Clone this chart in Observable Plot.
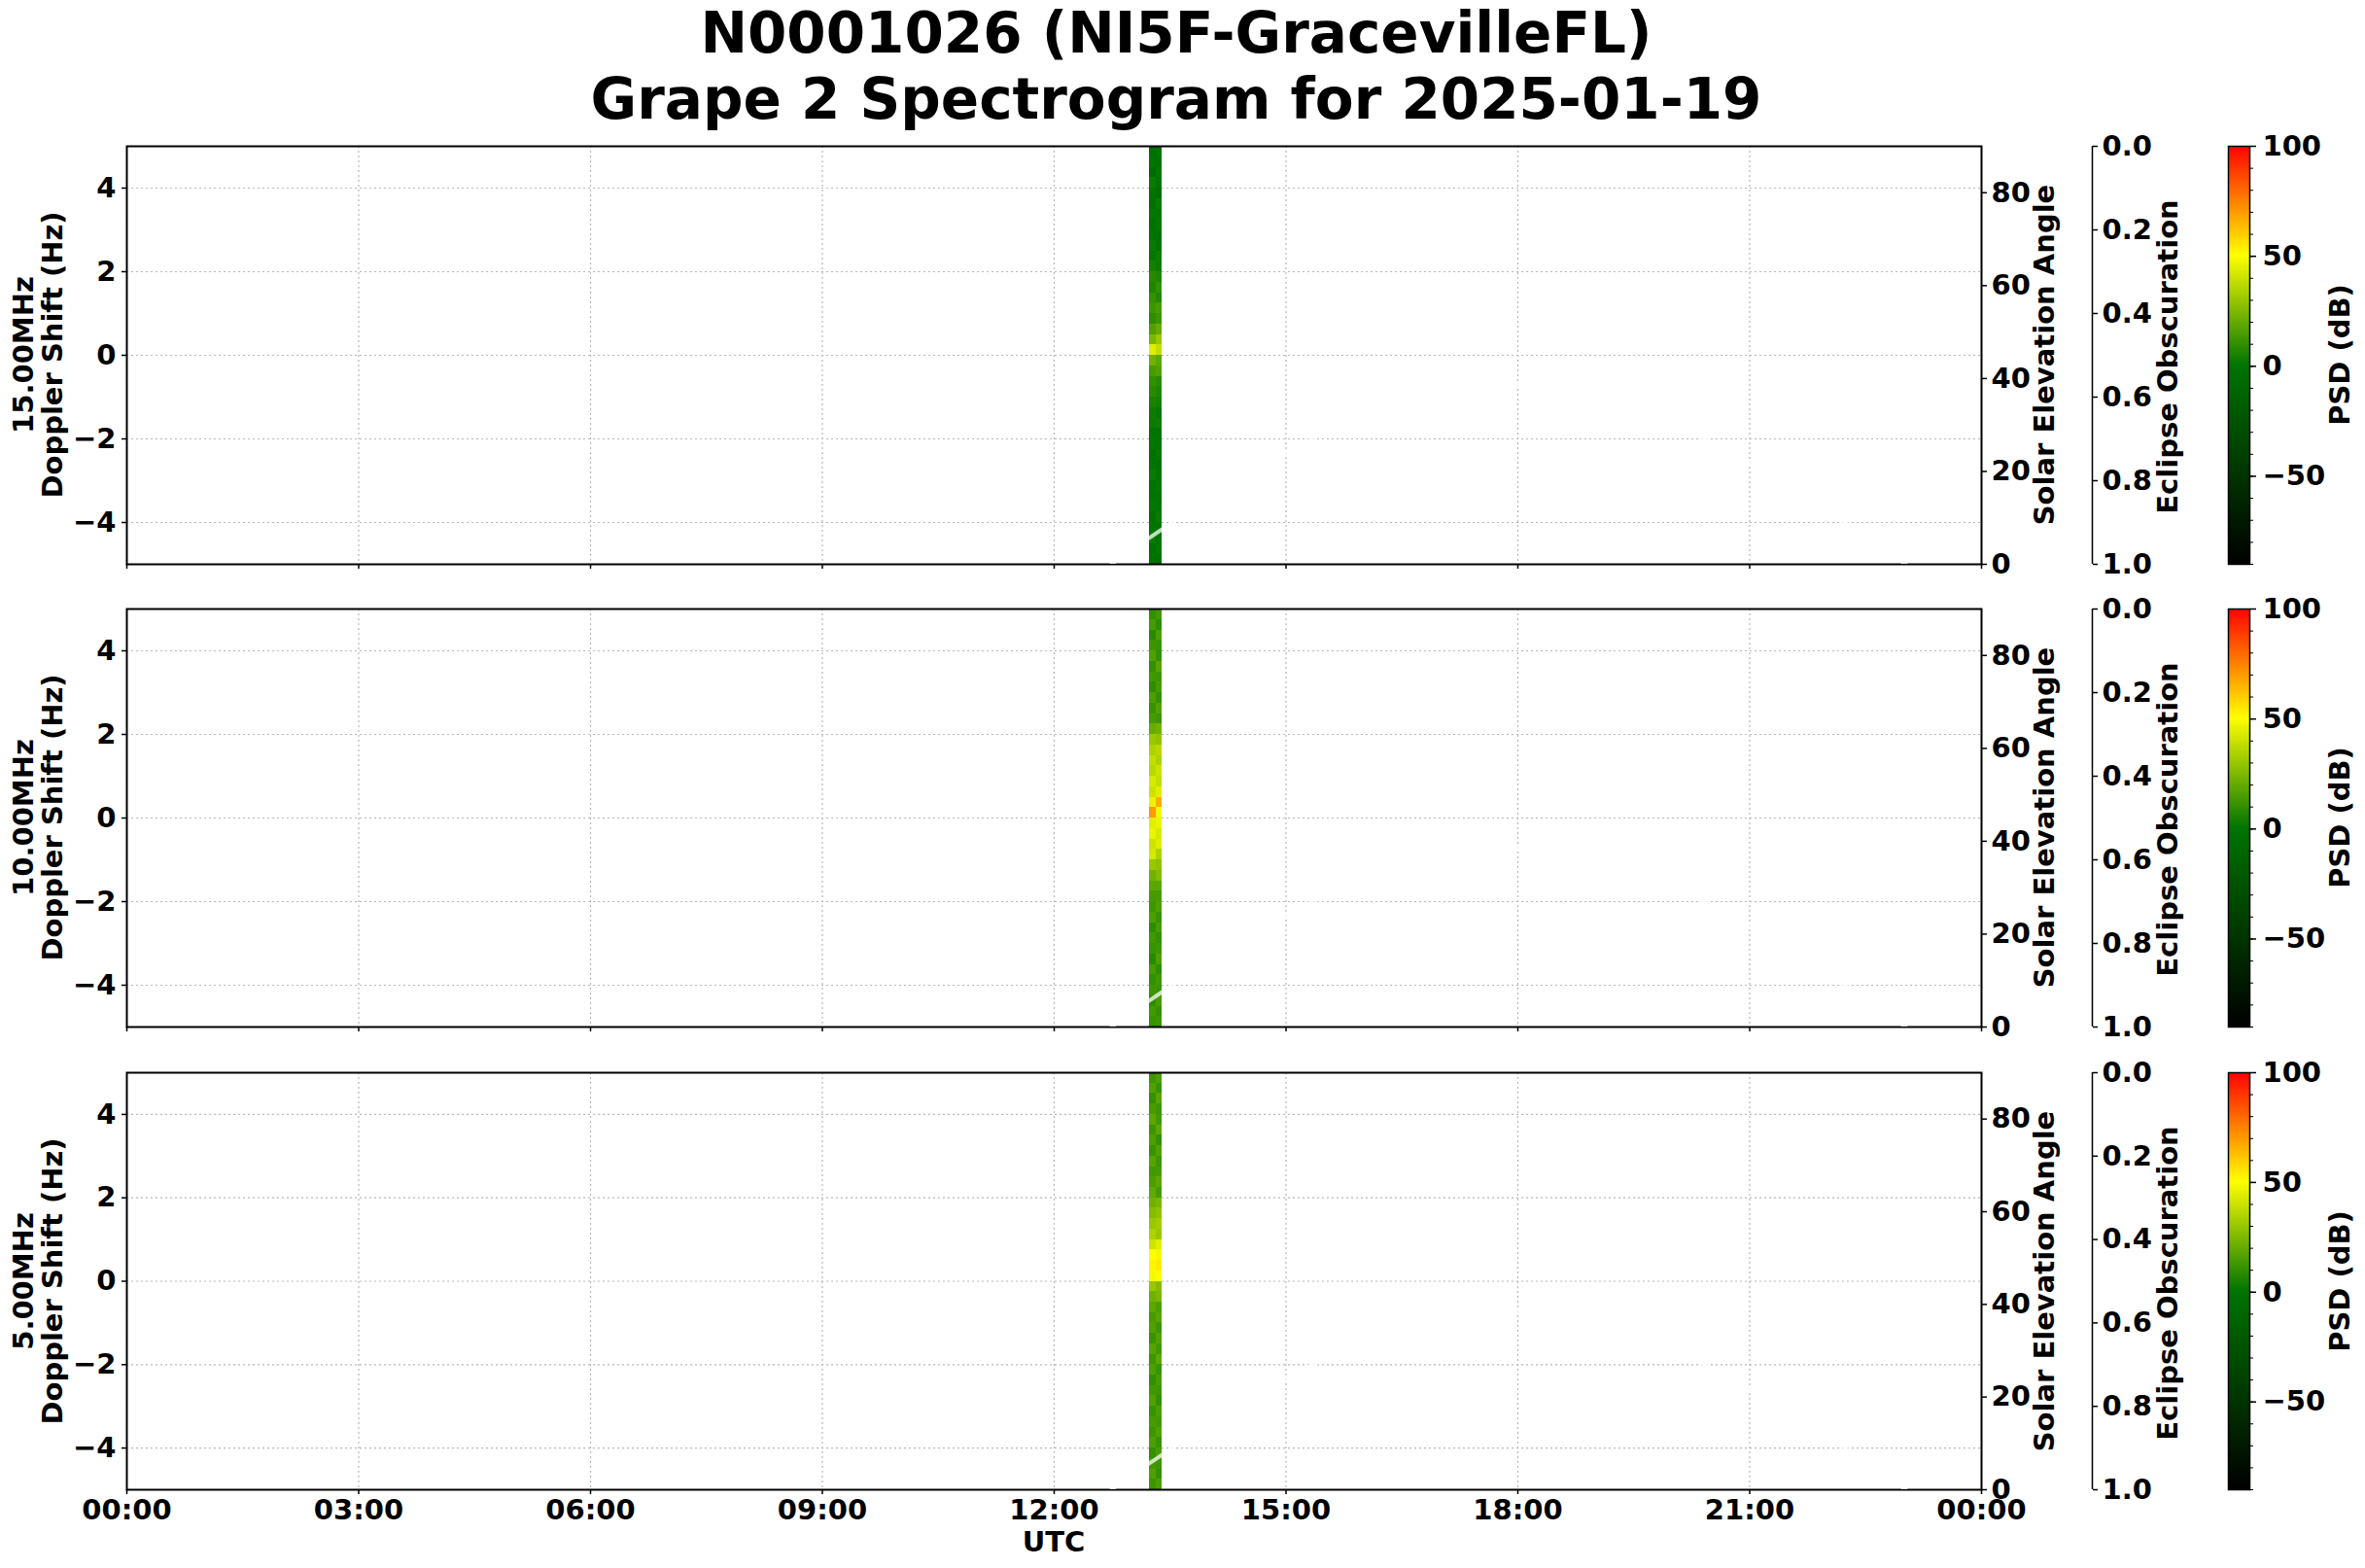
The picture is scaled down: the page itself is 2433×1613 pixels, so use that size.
<!DOCTYPE html>
<html><head><meta charset="utf-8">
<script src="https://cdn.jsdelivr.net/npm/d3@7"></script>
<script src="https://cdn.jsdelivr.net/npm/@observablehq/plot@0.6"></script>
<style>
body{margin:0;background:#fff;}
#root{position:relative;width:2433px;height:1613px;overflow:hidden;font-family:"DejaVu Sans";font-weight:bold;color:#000;}
#root svg{position:absolute;overflow:visible;background:transparent;}
.title{position:absolute;left:1210px;top:0px;transform:translateX(-50%);font-size:58px;line-height:68px;text-align:center;white-space:nowrap;}
.rot{position:absolute;white-space:nowrap;transform:translate(-50%,-50%) rotate(-90deg);font-size:29px;text-align:center;line-height:30px;}
.hlab{position:absolute;white-space:nowrap;transform:translate(-50%,-50%);font-size:29px;}
</style></head><body><div id="root"></div>
<script>
// ---------- data ----------
const stationTitle = "N0001026 (NI5F-GracevilleFL)";
const subTitle = "Grape 2 Spectrogram for 2025-01-19";
const panelNames = ["15.00MHz", "10.00MHz", "5.00MHz"];
const hourTicks = [0, 3, 6, 9, 12, 15, 18, 21, 24];
const dopplerTicks = [-4, -2, 0, 2, 4];
const elevTicks = [0, 20, 40, 60, 80];
const obscTicks = [0, 0.2, 0.4, 0.6, 0.8, 1.0];
const psdTicks = [-50, 0, 50, 100];
const psdMinorTicks = [-90, -80, -70, -60, -50, -40, -30, -20, -10, 0, 10, 20, 30, 40, 50, 60, 70, 80, 90, 100];
const psdStops = [-90, 0, 50, 100];
const psdColors = ["#000000", "#007400", "#ffff00", "#ff0000"];

// recording columns (UTC hours)
const stripeStart = [13.23, 13.315];
const stripeEnd = [13.315, 13.40];
const binWidth = 0.25; // Doppler bins from +5 Hz downward

// PSD (dB) per Doppler bin, top (+5 Hz) to bottom (-5 Hz)
const psd15A = [-4, 0, -8, 2, 0, -2, 1, -3, 0, 2,
                1, 4, 8, 6, 10, 12, 9, 16, 24, 44,
                22, 14, 10, 8, 5, 3, 2, 0, 1, -2,
                0, 2, -1, 0, 1, -3, 0, 2, -2, 0];
const psd15B = [0, -3, 1, 0, -6, 2, 0, 1, -2, 0,
                3, 2, 6, 10, 7, 14, 12, 20, 30, 38,
                18, 16, 8, 6, 4, 1, 3, -1, 0, 1,
                -2, 0, 1, -1, 0, 2, -1, 0, 1, -2];
const psd10A = [10, 14, 8, 12, 16, 10, 13, 9, 15, 11,
                14, 20, 30, 34, 38, 36, 42, 40, 46, 70,
                44, 46, 40, 42, 30, 22, 18, 14, 12, 15,
                9, 13, 11, 8, 14, 10, 12, 9, 13, 11];
const psd10B = [13, 9, 15, 11, 10, 17, 12, 14, 10, 16,
                12, 22, 28, 36, 34, 40, 38, 44, 66, 48,
                46, 42, 44, 34, 28, 26, 18, 14, 15, 11,
                14, 10, 12, 15, 9, 13, 11, 14, 10, 12];
const psd5A = [12, 16, 10, 14, 18, 12, 15, 11, 17, 13,
               15, 19, 22, 26, 30, 34, 40, 50, 52, 48,
               30, 22, 18, 14, 16, 11, 17, 12, 15, 10,
               13, 16, 11, 14, 12, 15, 10, 13, 16, 12];
const psd5B = [15, 11, 17, 12, 13, 18, 10, 16, 12, 14,
               18, 14, 24, 28, 32, 30, 44, 48, 54, 50,
               26, 24, 15, 17, 12, 16, 13, 18, 11, 14,
               12, 10, 15, 13, 16, 11, 14, 12, 10, 15];
const panelPsd = [[psd15A, psd15B], [psd10A, psd10B], [psd5A, psd5B]];

// solar elevation angle (deg) over the day
const sunHours = [12.74, 13, 13.25, 13.5, 14, 15, 16, 17, 17.88, 19, 20, 21, 22, 22.5, 23.02];
const sunElev  = [0, 3.1, 5.9, 8.7, 14.2, 24.0, 32.0, 37.1, 38.7, 36.2, 30.3, 21.8, 11.6, 6.0, 0];

// ---------- layout ----------
const frames = [{top: 150, bottom: 580}, {top: 626, bottom: 1056}, {top: 1103, bottom: 1532}];
const PL = 130, PR = 2038;
const FS = 29;
const root = document.getElementById("root");
const font = {fontFamily: "DejaVu Sans", fontWeight: "bold", fontSize: FS + "px", background: "transparent", overflow: "visible"};
const fmtMinus = d => d < 0 ? "\u2212" + Math.abs(d) : String(d);
const fmtHour = h => String(h % 24).padStart(2, "0") + ":00";
const colorScale = {type: "linear", domain: psdStops, range: psdColors, interpolate: "rgb", clamp: true};
const gridStyle = {stroke: "#b8b8b8", strokeOpacity: 1, strokeWidth: 1.2, strokeDasharray: "2,3"};

function place(svg, left, top) {
  svg.style.left = left + "px";
  svg.style.top = top + "px";
  root.appendChild(svg);
}
function addDiv(cls, html, x, y) {
  const d = document.createElement("div");
  d.className = cls;
  d.innerHTML = html;
  d.style.left = x + "px";
  d.style.top = y + "px";
  root.appendChild(d);
}

const t = document.createElement("div");
t.className = "title";
t.innerHTML = stationTitle + "<br>" + subTitle;
root.appendChild(t);

frames.forEach((p, i) => {
  const H = p.bottom - p.top;
  const last = i === 2;
  const mt = 10, mb = last ? 70 : 10;
  const rows = [];
  panelPsd[i].forEach((col, c) => col.forEach((v, b) => rows.push({
    t1: stripeStart[c], t2: stripeEnd[c],
    f1: 5 - b * binWidth, f2: 5 - (b + 1) * binWidth, psd: v
  })));

  const main = Plot.plot({
    width: PR + 62, height: H + mt + mb,
    marginLeft: PL, marginRight: 62, marginTop: mt, marginBottom: mb,
    style: font,
    x: {domain: [0, 24]}, y: {domain: [-5, 5]},
    color: colorScale,
    marks: [
      Plot.gridX(hourTicks, gridStyle),
      Plot.gridY(dopplerTicks, gridStyle),
      Plot.rect(rows, {x1: "t1", x2: "t2", y1: "f1", y2: "f2", fill: "psd", shapeRendering: "crispEdges"}),
      Plot.axisY(dopplerTicks, {anchor: "left", tickSize: 5, tickPadding: 6, tickFormat: fmtMinus, label: null, fontSize: FS, strokeWidth: 1.5}),
      Plot.axisX(hourTicks, {anchor: "bottom", tickSize: 5, tickPadding: 5, tickFormat: last ? fmtHour : () => "", label: null, fontSize: FS, strokeWidth: 1.5}),
      Plot.frame({stroke: "#000", strokeWidth: 2})
    ]
  });
  place(main, 0, p.top - mt);

  const elev = Plot.plot({
    width: PR + 62, height: H + mt + mb,
    marginLeft: PL, marginRight: 62, marginTop: mt, marginBottom: mb,
    style: font,
    x: {domain: [0, 24], axis: null}, y: {domain: [0, 90]},
    marks: [
      Plot.line(sunHours.map((h, k) => ({h, e: sunElev[k]})), {x: "h", y: "e", stroke: "white", strokeWidth: 4, strokeOpacity: 0.75, curve: "catmull-rom", clip: true}),
      Plot.axisY(elevTicks, {anchor: "right", tickSize: 5, tickPadding: 5, label: null, fontSize: FS, strokeWidth: 1.5})
    ]
  });
  place(elev, 0, p.top - mt);

  const obsc = Plot.plot({
    width: 200, height: H + mt + mb,
    marginLeft: 150, marginRight: 48, marginTop: mt, marginBottom: mb,
    style: font,
    x: {domain: [0, 1], axis: null}, y: {domain: [0, 1], reverse: true},
    marks: [
      Plot.ruleX([1], {stroke: "#000", strokeWidth: 1.5}),
      Plot.axisY(obscTicks, {anchor: "right", tickSize: 5, tickPadding: 5, tickFormat: d3.format(".1f"), label: null, fontSize: FS, strokeWidth: 1.5})
    ]
  });
  place(obsc, 2000, p.top - mt);

  const steps = d3.range(-90, 100, 0.5).map(v => ({v, v2: v + 0.5}));
  const cbar = Plot.plot({
    width: 233, height: H + mt + mb,
    marginLeft: 92, marginRight: 119, marginTop: mt, marginBottom: mb,
    style: font,
    x: {domain: [0, 1], axis: null}, y: {domain: [-90, 100]},
    color: colorScale,
    marks: [
      Plot.rect(steps, {x1: 0, x2: 1, y1: "v", y2: "v2", fill: "v", shapeRendering: "crispEdges"}),
      Plot.frame({stroke: "#000", strokeWidth: 1.5}),
      Plot.axisY(psdMinorTicks, {anchor: "right", tickSize: 3, tickFormat: () => "", label: null, strokeWidth: 1}),
      Plot.axisY(psdTicks, {anchor: "right", tickSize: 6, tickPadding: 7, tickFormat: fmtMinus, label: null, fontSize: FS, strokeWidth: 1.5})
    ]
  });
  place(cbar, 2200, p.top - mt);

  const cy = (p.top + p.bottom) / 2;
  addDiv("rot", panelNames[i] + "<br>Doppler Shift (Hz)", 39, cy);
  addDiv("rot", "Solar Elevation Angle", 2103, cy);
  addDiv("rot", "Eclipse Obscuration", 2230, cy + 2);
  addDiv("rot", "PSD (dB)", 2407, cy);
});
addDiv("hlab", "UTC", (PL + PR) / 2, 1586);
</script></body></html>
